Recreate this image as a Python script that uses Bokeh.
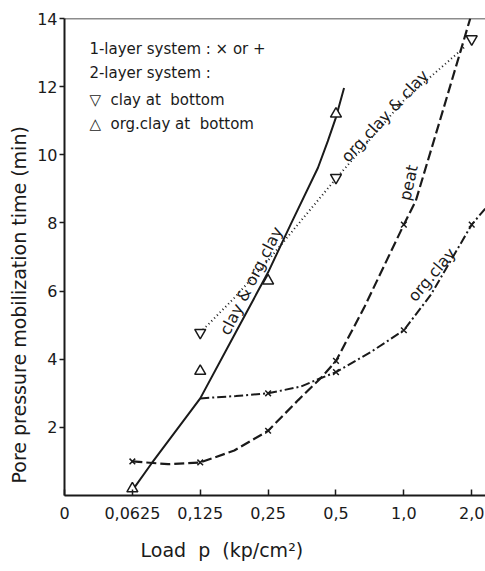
from bokeh.plotting import figure
from bokeh.models import Range1d, FixedTicker, Span, Title, Label
from bokeh.core.properties import value
from bokeh.embed import file_html
from bokeh.resources import INLINE
import math

# ---------------- data ----------------
# load p in kp/cm^2 (log2 scale), time in min
solid_x = [0.0625, 0.076, 0.125, 0.18, 0.25, 0.316, 0.416, 0.46, 0.5, 0.543]
solid_y = [0.15, 0.94, 2.85, 4.8, 6.55, 7.98, 9.62, 10.4, 11.1, 11.96]
solid_tri_x = [0.0625, 0.125, 0.25, 0.5]
solid_tri_y = [0.2, 3.65, 6.3, 11.2]

dotted_x = [0.125, 0.177, 0.25, 0.5, 1.0, 1.85]
dotted_y = [4.78, 5.8, 6.9, 9.3, 11.6, 13.15]
dotted_tri_x = [0.125, 0.5, 2.0]
dotted_tri_y = [4.78, 9.33, 13.4]

peat_x = [0.0625, 0.09, 0.125, 0.177, 0.25, 0.34, 0.43, 0.5, 0.665, 1.0, 1.13, 1.46, 1.97]
peat_y = [1.0, 0.92, 0.97, 1.32, 1.9, 2.8, 3.46, 3.95, 5.5, 7.95, 8.65, 11.1, 14.0]
peat_mk_x = [0.0625, 0.125, 0.25, 0.5, 1.0]
peat_mk_y = [1.0, 0.97, 1.9, 3.95, 7.95]

orgclay_x = [0.125, 0.18, 0.25, 0.35, 0.43, 0.5, 0.71, 1.0, 1.32, 2.0, 2.35]
orgclay_y = [2.85, 2.92, 3.0, 3.2, 3.45, 3.62, 4.2, 4.85, 5.9, 7.95, 8.5]
orgclay_mk_x = [0.25, 0.5, 1.0, 2.0]
orgclay_mk_y = [3.0, 3.62, 4.85, 7.95]

x_ticks = [0.03125, 0.0625, 0.125, 0.25, 0.5, 1.0, 2.0]
x_tick_labels = ["0", "0,0625", "0,125", "0,25", "0,5", "1,0", "2,0"]
y_ticks = [2, 4, 6, 8, 10, 12, 14]

curve_labels = ["clay & org.clay", "org.clay & clay", "peat", "org.clay"]
NB = "\u00a0"
legend_lines = ["1-layer system : \u00d7 or +", "2-layer system :",
                "\u25bd" + NB * 2 + "clay at" + NB * 2 + "bottom",
                "\u25b3" + NB * 2 + "org.clay at" + NB * 2 + "bottom"]

FONT = "DejaVu Sans"
INK = "#1a1a1a"

p = figure(frame_width=423, frame_height=477, x_axis_type="log",
           x_range=Range1d(0.03125, 2.35), y_range=Range1d(0, 14),
           output_backend="svg", toolbar_location=None,
           min_border_left=62, min_border_right=0, min_border_top=18,
           min_border_bottom=76)
p.grid.visible = False
p.outline_line_color = None
p.background_fill_color = "white"
p.border_fill_color = "white"

for ax in (p.xaxis, p.yaxis):
    ax.axis_line_width = 2
    ax.axis_line_color = INK
    ax.major_tick_line_color = INK
    ax.major_tick_line_width = 1.5
    ax.minor_tick_line_color = None
    ax.major_label_text_font = FONT
    ax.major_label_text_color = INK
    ax.major_label_text_font_size = "16px"

p.xaxis.ticker = FixedTicker(ticks=x_ticks)
p.xaxis.major_label_overrides = {t: l for t, l in zip(x_ticks, x_tick_labels)}
p.xaxis.major_tick_in = 6
p.xaxis.major_tick_out = 0
p.xaxis.major_label_standoff = 11

p.yaxis.ticker = FixedTicker(ticks=y_ticks)
p.yaxis.major_tick_in = 0
p.yaxis.major_tick_out = 5
p.yaxis.major_label_standoff = 2

p.add_layout(Span(location=14, dimension="width", line_color=INK, line_width=1.5))

p.add_layout(Title(text="Load" + NB * 2 + "p" + NB * 2 + "(kp/cm\u00b2)", align="left", offset=76,
                   text_font=FONT, text_font_size="19px", text_font_style="normal",
                   text_color=INK, standoff=31), "below")
p.add_layout(Title(text="Pore pressure" + NB + "mobilization" + NB + "time" + NB + "(min)",
                   align="left", offset=12,
                   text_font=FONT, text_font_size="19px", text_font_style="normal",
                   text_color=INK), "left")

# curves
p.line(solid_x, solid_y, line_color=INK, line_width=2)
p.line(dotted_x, dotted_y, line_color=INK, line_width=2, line_dash="1 3")
p.line(peat_x, peat_y, line_color=INK, line_width=2.2, line_dash="10 4")
p.line(orgclay_x, orgclay_y, line_color=INK, line_width=2, line_dash="9 3 2 3")

# markers
p.scatter(peat_mk_x, peat_mk_y, marker="x", size=8, line_color=INK, line_width=1.5)
p.scatter(orgclay_mk_x, orgclay_mk_y, marker="x", size=8, line_color=INK, line_width=1.5)
p.scatter(solid_tri_x, solid_tri_y, marker="triangle", size=11, line_color=INK,
          fill_color="white", line_width=1.5)
p.scatter(dotted_tri_x, dotted_tri_y, marker="inverted_triangle", size=11, line_color=INK,
          fill_color="white", line_width=1.5)

# curve labels
lab_x = [0.21, 0.824, 1.05, 1.33]
lab_y = [6.3, 11.14, 9.18, 6.48]
lab_a = [math.radians(a) for a in (63, 47, 77, 50)]
p.text(lab_x, lab_y, text=curve_labels, angle=lab_a, text_align="center",
       text_baseline="middle", text_font=value(FONT), text_font_size="16px", text_color=INK)

# legend text
leg_y = [13.1, 12.4, 11.6, 10.9]
for t, yy in zip(legend_lines, leg_y):
    p.add_layout(Label(x=0.0403, y=yy, text=t, text_baseline="middle", text_align="left",
                       text_font=FONT, text_font_size="15px", text_color=INK))

open("out.html", "w").write(file_html(p, INLINE))
